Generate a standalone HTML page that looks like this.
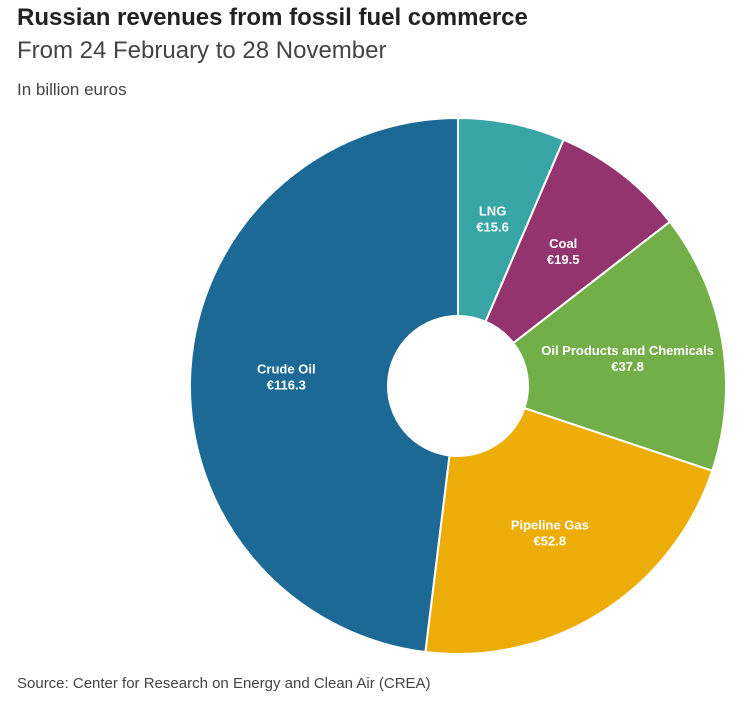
<!DOCTYPE html>
<html><head><meta charset="utf-8"><style>
body{margin:0;background:#fff;font-family:"Liberation Sans",sans-serif;color:#333;}
#wrap{position:relative;width:750px;height:706px;overflow:hidden;}
.t{position:absolute;left:17px;white-space:nowrap;}
</style></head><body>
<div id="wrap">
<div class="t" style="top:4px;font-size:24px;font-weight:bold;color:#222;">Russian revenues from fossil fuel commerce</div>
<div class="t" style="top:37px;font-size:24px;color:#444;">From 24 February to 28 November</div>
<div class="t" style="top:80px;font-size:17px;color:#444;">In billion euros</div>
<svg id="chart" width="750" height="706" style="position:absolute;left:0;top:0;"></svg>
<div class="t" style="top:675px;font-size:15px;color:#444;">Source: Center for Research on Energy and Clean Air (CREA)</div>
</div>
<script>
const categories=["LNG","Coal","Oil Products and Chemicals","Pipeline Gas","Crude Oil"];
const values=[15.6,19.5,37.8,52.8,116.3];
const valueLabels=["€15.6","€19.5","€37.8","€52.8","€116.3"];
const colors=["#38a6a5","#94346e","#73af48","#edad08","#1d6996"];
const svg=document.getElementById('chart');
const NS="http://www.w3.org/2000/svg";
const cx=458,cy=386,R=268,r=70,LR=172;
const total=values.reduce((a,b)=>a+b,0);
function pt(a,rad){return [cx+rad*Math.sin(a),cy-rad*Math.cos(a)];}
let acc=0;
values.forEach((v,i)=>{
  const a0=acc/total*2*Math.PI; acc+=v; const a1=acc/total*2*Math.PI;
  const large=(a1-a0)>Math.PI?1:0;
  const [x0,y0]=pt(a0,R),[x1,y1]=pt(a1,R),[x2,y2]=pt(a1,r),[x3,y3]=pt(a0,r);
  const p=document.createElementNS(NS,'path');
  p.setAttribute('d',`M${x0},${y0}A${R},${R} 0 ${large} 1 ${x1},${y1}L${x2},${y2}A${r},${r} 0 ${large} 0 ${x3},${y3}Z`);
  p.setAttribute('fill',colors[i]);p.setAttribute('stroke','#fff');p.setAttribute('stroke-width','2');
  
  
  svg.appendChild(p);
  const am=(a0+a1)/2; const [lx,ly]=pt(am,LR);
  const t=document.createElementNS(NS,'text');
  t.setAttribute('x',lx);t.setAttribute('y',ly-2);t.setAttribute('text-anchor','middle');
  t.setAttribute('fill','#fff');t.setAttribute('font-size','13');t.setAttribute('font-weight','bold');
  t.setAttribute('font-family','Liberation Sans, sans-serif');
  
  
  const s1=document.createElementNS(NS,'tspan');s1.setAttribute('x',lx);s1.textContent=categories[i];
  const s2=document.createElementNS(NS,'tspan');s2.setAttribute('x',lx);s2.setAttribute('dy','16');s2.textContent=valueLabels[i];
  t.appendChild(s1);t.appendChild(s2);svg.appendChild(t);
});
</script>
</body></html>
